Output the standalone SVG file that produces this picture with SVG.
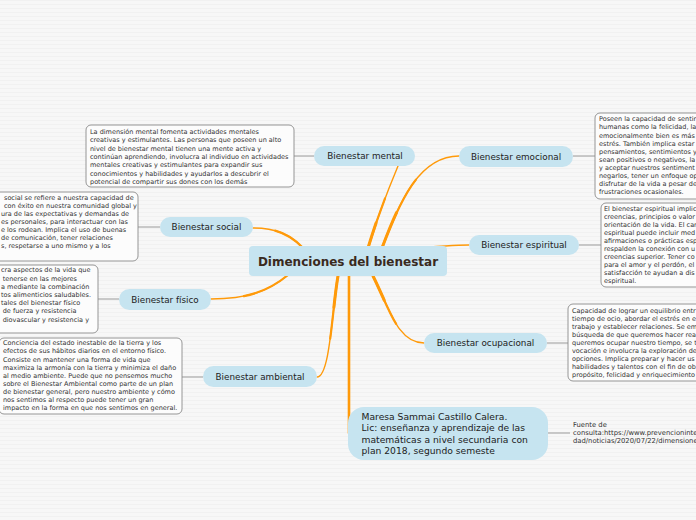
<svg xmlns="http://www.w3.org/2000/svg" width="696" height="520" viewBox="0 0 696 520">
<defs>
<pattern id="bg" width="8" height="4" patternUnits="userSpaceOnUse">
<rect width="8" height="4" fill="#f7f7f7"/>
<rect width="8" height="1" fill="#f1f1f1"/>
</pattern>
</defs>
<style>
.node{fill:#c6e4f0}
.lbl{font-family:"DejaVu Sans",Verdana,sans-serif;font-size:8.8px;fill:#222;text-anchor:middle}
.ctr{font-family:"DejaVu Sans",Verdana,sans-serif;font-size:12px;font-weight:bold;fill:#3a2a1e;text-anchor:middle}
.box{fill:#fcfcfc;stroke:#8a8a8a;stroke-width:0.9}
.bt{font-family:"DejaVu Sans",Verdana,sans-serif;font-size:6.5px;fill:#333}
.mt{font-family:"DejaVu Sans",Verdana,sans-serif;font-size:9.2px;fill:#222}
.ft{font-family:"DejaVu Sans",Verdana,sans-serif;font-size:6.8px;fill:#333}
.gc{stroke:#9a9a9a;stroke-width:1;fill:none}
.oc{stroke:#ff9a0a;fill:none;stroke-linecap:round}
.o1{stroke-width:1.4}
.o2{stroke-width:2.2;stroke-dasharray:60 200}
.o3{stroke-width:3;stroke-dasharray:30 200}
</style>
<rect width="696" height="520" fill="url(#bg)"/>

<g id="connectors">
<line class="gc" x1="294" y1="156" x2="314" y2="156"/>
<line class="gc" x1="573" y1="156" x2="595" y2="156"/>
<line class="gc" x1="579" y1="245" x2="601" y2="245"/>
<line class="gc" x1="547" y1="343" x2="568" y2="343"/>
<line class="gc" x1="138" y1="227" x2="160" y2="227"/>
<line class="gc" x1="98" y1="299" x2="119" y2="299"/>
<line class="gc" x1="182" y1="377" x2="203" y2="377"/>
<line class="gc" x1="548" y1="433" x2="570" y2="433"/>
<g>
<path class="oc o1" pathLength="100" d="M368,248 C378,215 388,190 398,166"/>
<path class="oc o2" pathLength="100" d="M368,248 C378,215 388,190 398,166"/>
<path class="oc o3" pathLength="100" d="M368,248 C378,215 388,190 398,166"/>
</g>
<g>
<path class="oc o1" pathLength="100" d="M382,248 C400,200 420,156 459,156"/>
<path class="oc o2" pathLength="100" d="M382,248 C400,200 420,156 459,156"/>
<path class="oc o3" pathLength="100" d="M382,248 C400,200 420,156 459,156"/>
</g>
<g>
<path class="oc o1" pathLength="100" d="M430,247 C448,246 455,245 469,245"/>
</g>
<g>
<path class="oc o1" pathLength="100" d="M303,248 C290,234 275,228 253,228"/>
<path class="oc o2" pathLength="100" d="M303,248 C290,234 275,228 253,228"/>
</g>
<g>
<path class="oc o1" pathLength="100" d="M288,275 C270,290 250,299 211,299"/>
<path class="oc o2" pathLength="100" d="M288,275 C270,290 250,299 211,299"/>
</g>
<g>
<path class="oc o1" pathLength="100" d="M338,276 C332,310 330,377 317,377"/>
<path class="oc o2" pathLength="100" d="M338,276 C332,310 330,377 317,377"/>
<path class="oc o3" pathLength="100" d="M338,276 C332,310 330,377 317,377"/>
</g>
<g>
<path class="oc o1" pathLength="100" d="M373,276 C390,310 398,343 424,343"/>
<path class="oc o2" pathLength="100" d="M373,276 C390,310 398,343 424,343"/>
<path class="oc o3" pathLength="100" d="M373,276 C390,310 398,343 424,343"/>
</g>
<g>
<path class="oc" stroke-width="2.6" d="M349,276 L349,433"/>
</g>
</g>

<g id="center">
<rect class="node" x="249" y="246" width="198" height="30" rx="4"/>
<text class="ctr" x="348" y="265.5">Dimenciones del bienestar</text>
</g>

<g id="mental">
<rect class="node" x="314" y="146" width="101" height="20" rx="10"/>
<text class="lbl" x="365" y="159">Bienestar mental</text>
</g>
<g id="mental-text">
<rect class="box" x="86" y="125" width="208" height="62" rx="5"/>
<text class="bt">
<tspan x="90" y="133.8">La dimensión mental fomenta actividades mentales</tspan>
<tspan x="90" y="142.2">creativas y estimulantes. Las personas que poseen un alto</tspan>
<tspan x="90" y="150.6">nivel de bienestar mental tienen una mente activa y</tspan>
<tspan x="90" y="159">continúan aprendiendo, involucra al individuo en actividades</tspan>
<tspan x="90" y="167.4">mentales creativas y estimulantes para expandir sus</tspan>
<tspan x="90" y="175.8">conocimientos y habilidades y ayudarlos a descubrir el</tspan>
<tspan x="90" y="184.2">potencial de compartir sus dones con los demás</tspan>
</text>
</g>

<g id="emocional">
<rect class="node" x="459" y="146" width="114" height="21" rx="10.5"/>
<text class="lbl" x="516" y="159.5">Bienestar emocional</text>
</g>
<g id="emocional-text">
<rect class="box" x="595" y="113" width="140" height="86" rx="5"/>
<text class="bt">
<tspan x="599" y="121.3">Poseen la capacidad de sentir</tspan>
<tspan x="599" y="129.4">humanas como la felicidad, la</tspan>
<tspan x="599" y="137.5">emocionalmente bien es más</tspan>
<tspan x="599" y="145.6">estrés. También implica estar</tspan>
<tspan x="599" y="153.7">pensamientos, sentimientos y</tspan>
<tspan x="599" y="161.8">sean positivos o negativos, la</tspan>
<tspan x="599" y="169.9">y aceptar nuestros sentiment</tspan>
<tspan x="599" y="178">negarlos, tener un enfoque op</tspan>
<tspan x="599" y="186.1">disfrutar de la vida a pesar de</tspan>
<tspan x="599" y="194.2">frustraciones ocasionales.</tspan>
</text>
</g>

<g id="espiritual">
<rect class="node" x="469" y="235" width="110" height="20" rx="10"/>
<text class="lbl" x="524" y="248">Bienestar espiritual</text>
</g>
<g id="espiritual-text">
<rect class="box" x="601" y="203" width="140" height="84" rx="5"/>
<text class="bt">
<tspan x="604" y="211.3">El bienestar espiritual implic</tspan>
<tspan x="604" y="219.3">creencias, principios o valor</tspan>
<tspan x="604" y="227.3">orientación de la vida. El car</tspan>
<tspan x="604" y="235.3">espiritual puede incluir med</tspan>
<tspan x="604" y="243.3">afirmaciones o prácticas esp</tspan>
<tspan x="604" y="251.3">respalden la conexión con u</tspan>
<tspan x="604" y="259.3">creencias superior. Tener co</tspan>
<tspan x="604" y="267.3">para el amor y el perdón, el</tspan>
<tspan x="604" y="275.3">satisfacción te ayudan a dis</tspan>
<tspan x="604" y="283.3">espiritual.</tspan>
</text>
</g>

<g id="social">
<rect class="node" x="160" y="217" width="93" height="20" rx="10"/>
<text class="lbl" x="206.5" y="230">Bienestar social</text>
</g>
<g id="social-text">
<rect class="box" x="-60" y="192" width="198" height="69" rx="5"/>
<text class="bt">
<tspan x="4" y="200.3">social se refiere a nuestra capacidad de</tspan>
<tspan x="4" y="208.3">con éxito en nuestra comunidad global y</tspan>
<tspan x="1" y="216.3">ura de las expectativas y demandas de</tspan>
<tspan x="1" y="224.3">es personales, para interactuar con las</tspan>
<tspan x="1" y="232.3">e los rodean. Implica el uso de buenas</tspan>
<tspan x="1" y="240.3">de comunicación, tener relaciones</tspan>
<tspan x="1" y="248.3">s, respetarse a uno mismo y a los</tspan>
</text>
</g>

<g id="fisico">
<rect class="node" x="119" y="289" width="92" height="21" rx="10.5"/>
<text class="lbl" x="165" y="302.5">Bienestar físico</text>
</g>
<g id="fisico-text">
<rect class="box" x="-60" y="265" width="158" height="68" rx="5"/>
<text class="bt">
<tspan x="1" y="272.3">cra aspectos de la vida que</tspan>
<tspan x="2.7" y="280.5">tenerse en las mejores</tspan>
<tspan x="1" y="288.7">a mediante la combinación</tspan>
<tspan x="1" y="296.9">tos alimenticios saludables.</tspan>
<tspan x="1" y="305.1">tales del bienestar físico</tspan>
<tspan x="2.7" y="313.3">de fuerza y resistencia</tspan>
<tspan x="2.7" y="321.5">diovascular y resistencia y</tspan>
</text>
</g>

<g id="ambiental">
<rect class="node" x="203" y="366" width="114" height="21" rx="10.5"/>
<text class="lbl" x="260" y="379.5">Bienestar ambiental</text>
</g>
<g id="ambiental-text">
<rect class="box" x="-1" y="338" width="183" height="76" rx="5"/>
<text class="bt">
<tspan x="3" y="345.3">Conciencia del estado inestable de la tierra y los</tspan>
<tspan x="3" y="353.4">efectos de sus hábitos diarios en el entorno físico.</tspan>
<tspan x="3" y="361.5">Consiste en mantener una forma de vida que</tspan>
<tspan x="3" y="369.6">maximiza la armonía con la tierra y minimiza el daño</tspan>
<tspan x="3" y="377.7">al medio ambiente. Puede que no pensemos mucho</tspan>
<tspan x="3" y="385.8">sobre el Bienestar Ambiental como parte de un plan</tspan>
<tspan x="3" y="393.9">de bienestar general, pero nuestro ambiente y cómo</tspan>
<tspan x="3" y="402">nos sentimos al respecto puede tener un gran</tspan>
<tspan x="3" y="410.1">impacto en la forma en que nos sentimos en general.</tspan>
</text>
</g>

<g id="ocupacional">
<rect class="node" x="424" y="333" width="123" height="20" rx="10"/>
<text class="lbl" x="485.5" y="346">Bienestar ocupacional</text>
</g>
<g id="ocupacional-text">
<rect class="box" x="568" y="304" width="160" height="77" rx="5"/>
<text class="bt">
<tspan x="572" y="313.3">Capacidad de lograr un equilibrio entr</tspan>
<tspan x="572" y="321.2">tiempo de ocio, abordar el estrés en e</tspan>
<tspan x="572" y="329.1">trabajo y establecer relaciones. Se em</tspan>
<tspan x="572" y="337">búsqueda de que queremos hacer rea</tspan>
<tspan x="572" y="344.9">queremos ocupar nuestro tiempo, se t</tspan>
<tspan x="572" y="352.8">vocación e involucra la exploración de</tspan>
<tspan x="572" y="360.7">opciones. Implica preparar y hacer us</tspan>
<tspan x="572" y="368.6">habilidades y talentos con el fin de ob</tspan>
<tspan x="572" y="376.5">propósito, felicidad y enriquecimiento</tspan>
</text>
</g>

<g id="autora">
<rect class="node" x="348" y="407" width="200" height="53" rx="16"/>
<text class="mt">
<tspan x="361.5" y="420.2">Maresa Sammai Castillo Calera.</tspan>
<tspan x="361.5" y="431.4">Lic: enseñanza y aprendizaje de las</tspan>
<tspan x="361.5" y="442.6">matemáticas a nivel secundaria con</tspan>
<tspan x="361.5" y="453.8">plan 2018, segundo semeste</tspan>
</text>
</g>
<g id="fuente">
<text class="ft">
<tspan x="573" y="426.5">Fuente de</tspan>
<tspan x="573" y="435">consulta:https://www.prevencioninte</tspan>
<tspan x="573" y="442.5">dad/noticias/2020/07/22/dimensione</tspan>
</text>
</g>
</svg>
